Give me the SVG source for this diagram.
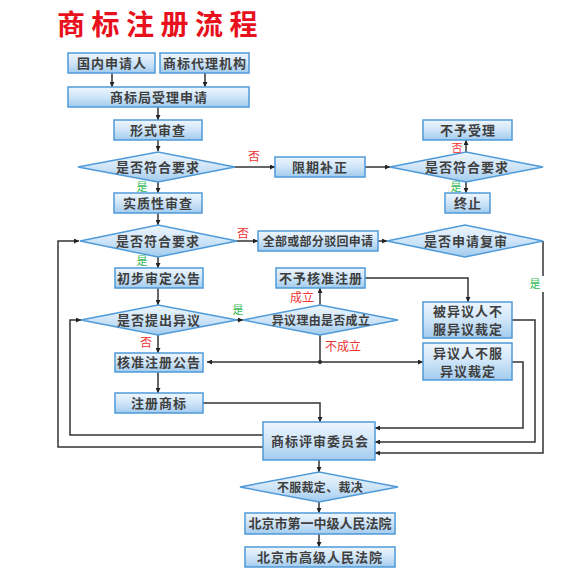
<svg xmlns="http://www.w3.org/2000/svg" width="580" height="580" viewBox="0 0 580 580">
<defs>
<linearGradient id="gb" x1="0" y1="0" x2="0" y2="1">
<stop offset="0" stop-color="#eef6fd"/>
<stop offset="0.5" stop-color="#cfe5f8"/>
<stop offset="1" stop-color="#a2cbee"/>
</linearGradient>
<marker id="ar" viewBox="0 0 8 8" refX="8" refY="4" markerWidth="5" markerHeight="5" orient="auto" markerUnits="userSpaceOnUse">
<path d="M0,0 L8,4 L0,8 z" fill="#222"/>
</marker>
<marker id="dot" viewBox="0 0 6 6" refX="3" refY="3" markerWidth="4" markerHeight="4" markerUnits="userSpaceOnUse">
<circle cx="3" cy="3" r="3" fill="#222"/>
</marker>
</defs>
<style>
.b{fill:url(#gb);stroke:#4f9ad8;stroke-width:1.5}
.t{font-family:"Noto Sans CJK SC",sans-serif;font-size:13px;fill:#3f3f3f;text-anchor:middle;font-weight:bold;letter-spacing:1px}
.s{font-size:12px;letter-spacing:0.3px}
.c{fill:none;stroke:#333;stroke-width:1.5;marker-end:url(#ar)}
.n{fill:none;stroke:#333;stroke-width:1.5}
.r{font-family:"Noto Sans CJK SC",sans-serif;font-size:12px;fill:#ee3333;text-anchor:middle}
.g{font-family:"Noto Sans CJK SC",sans-serif;font-size:11px;fill:#33bb55;text-anchor:middle}
</style>
<rect width="580" height="580" fill="#fff"/>
<text x="57" y="35" font-family="'Noto Sans CJK SC',sans-serif" font-size="28" font-weight="bold" fill="#e8101c" letter-spacing="6.5">商标注册流程</text>

<g id="connectors">
<path class="c" d="M112,73 V87"/>
<path class="c" d="M205,73 V87"/>
<path class="c" d="M158,107 V120"/>
<path class="c" d="M158,140 V151"/>
<path class="c" d="M158,182 V193"/>
<path class="c" d="M235,167 H275"/>
<path class="c" d="M365,167 H390"/>
<path class="c" d="M466,152 V140"/>
<path class="c" d="M466,182 V193"/>
<path class="c" d="M158,213 V225"/>
<path class="c" d="M237,241 H258"/>
<path class="c" d="M378,241 H387"/>
<path class="n" d="M543,241 V276"/>
<path class="c" d="M543,292 V453 H375"/>
<path class="c" d="M158,257 V268"/>
<path class="c" d="M158,288 V305"/>
<path class="c" d="M237,320 H243"/>
<path class="c" d="M320,305 V288"/>
<path class="c" d="M365,278 H468 V302"/>
<path class="n" d="M320,335 V362" marker-end="url(#dot)"/>
<path class="c" d="M320,362 H207"/>
<path class="c" d="M320,362 H423"/>
<path class="c" d="M158,335 V353"/>
<path class="c" d="M158,372 V393"/>
<path class="c" d="M203,403 H320 V422"/>
<path class="c" d="M512,320 H535 V442 H375"/>
<path class="c" d="M512,362 H523 V428 H375"/>
<path class="c" d="M263,435 H70 V320 H81"/>
<path class="c" d="M263,447 H58 V241 H79"/>
<path class="c" d="M319,460 V472"/>
<path class="c" d="M319,502 V513"/>
<path class="c" d="M319,534 V547"/>
</g>

<g id="n1"><rect class="b" x="68" y="53" width="87" height="20"/><text class="t" x="112" y="68">国内申请人</text></g>
<g id="n2"><rect class="b" x="160" y="53" width="89" height="20"/><text class="t" x="205" y="68">商标代理机构</text></g>
<g id="n3"><rect class="b" x="68" y="87" width="181" height="20"/><text class="t" x="159" y="102">商标局受理申请</text></g>
<g id="n4"><rect class="b" x="114" y="120" width="88" height="20"/><text class="t" x="158" y="135">形式审查</text></g>
<g id="d1"><polygon class="b" points="78,167 158,152 235,167 158,182"/><text class="t" x="158" y="172">是否符合要求</text></g>
<g id="n5"><rect class="b" x="275" y="157" width="90" height="20"/><text class="t" x="320" y="172">限期补正</text></g>
<g id="d2"><polygon class="b" points="390,167 466,152 543,167 466,182"/><text class="t" x="467" y="172">是否符合要求</text></g>
<g id="n6"><rect class="b" x="423" y="120" width="89" height="20"/><text class="t" x="468" y="135">不予受理</text></g>
<g id="n7"><rect class="b" x="445" y="193" width="45" height="20"/><text class="t" x="468" y="208">终止</text></g>
<g id="n8"><rect class="b" x="114" y="193" width="88" height="20"/><text class="t" x="158" y="208">实质性审查</text></g>
<g id="d3"><polygon class="b" points="80,241 158,225 237,241 158,257"/><text class="t" x="158" y="246">是否符合要求</text></g>
<g id="n9"><rect class="b" x="258" y="231" width="120" height="20"/><text class="t s" x="318" y="246">全部或部分驳回申请</text></g>
<g id="d4"><polygon class="b" points="387,241 465,225 543,241 465,257"/><text class="t" x="466" y="246">是否申请复审</text></g>
<g id="n10"><rect class="b" x="115" y="268" width="88" height="20"/><text class="t" x="159" y="283">初步审定公告</text></g>
<g id="d5"><polygon class="b" points="81,320 158,305 237,320 158,335"/><text class="t" x="159" y="325">是否提出异议</text></g>
<g id="d6"><polygon class="b" points="243,320 320,305 398,320 320,335"/><text class="t s" x="321" y="325">异议理由是否成立</text></g>
<g id="n11"><rect class="b" x="276" y="268" width="89" height="20"/><text class="t" x="321" y="283">不予核准注册</text></g>
<g id="n12"><rect class="b" x="423" y="302" width="89" height="36"/><text class="t" x="468" y="316">被异议人不</text><text class="t" x="468" y="334">服异议裁定</text></g>
<g id="n13"><rect class="b" x="423" y="343" width="89" height="37"/><text class="t" x="468" y="358">异议人不服</text><text class="t" x="468" y="376">异议裁定</text></g>
<g id="n14"><rect class="b" x="115" y="353" width="88" height="19"/><text class="t" x="159" y="367">核准注册公告</text></g>
<g id="n15"><rect class="b" x="115" y="393" width="88" height="20"/><text class="t" x="159" y="408">注册商标</text></g>
<g id="n16"><rect class="b" x="263" y="422" width="112" height="38"/><text class="t" x="320" y="446">商标评审委员会</text></g>
<g id="d7"><polygon class="b" points="240,487 319,472 398,487 319,502"/><text class="t s" x="320" y="492">不服裁定、裁决</text></g>
<g id="n17"><rect class="b" x="245" y="513" width="150" height="21"/><text class="t" x="320" y="528" style="letter-spacing:0">北京市第一中级人民法院</text></g>
<g id="n18"><rect class="b" x="245" y="547" width="150" height="20"/><text class="t" x="320" y="562">北京市高级人民法院</text></g>

<g id="labels">
<text class="r" x="254" y="161">否</text>
<text class="g" x="142" y="191">是</text>
<text class="r" x="457" y="152" style="font-size:11px">否</text>
<text class="g" x="456" y="191">是</text>
<text class="r" x="243" y="238">否</text>
<text class="g" x="142" y="265">是</text>
<text class="g" x="238" y="314">是</text>
<text class="r" x="302" y="302">成立</text>
<text class="r" x="343" y="351">不成立</text>
<text class="r" x="146" y="347">否</text>
<text class="g" x="535" y="288">是</text>
</g>
</svg>
